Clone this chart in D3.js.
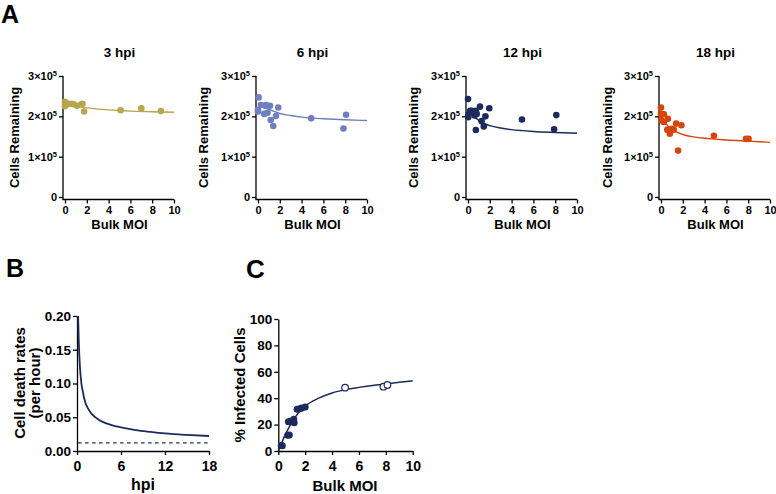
<!DOCTYPE html>
<html><head><meta charset="utf-8">
<script src="https://cdn.jsdelivr.net/npm/d3@7"></script>
<style>
body{margin:0;background:#fff}
svg{display:block}
text{font-family:"Liberation Sans",Arial,Helvetica,sans-serif;font-weight:bold;fill:#000}
</style>
</head><body>
<svg id="c" width="776" height="494"></svg>
<script>
// ---------- DATA ----------
const titlesA = ["3 hpi", "6 hpi", "12 hpi", "18 hpi"];
const colorsA = ["#b7a64f", "#6f7fc2", "#1c2b5b", "#d5460e"];
const moiTicks = [0, 2, 4, 6, 8, 10];
const cellTicks = [0, 1e5, 2e5, 3e5];

const moi3 = [0, 0, 0.05, 0.3, 0.6, 0.8, 1.1, 1.5, 1.6, 1.75, 5.1, 7.0, 8.8];
const cells3 = [2.36e5, 2.25e5, 2.31e5, 2.31e5, 2.31e5, 2.30e5, 2.26e5, 2.30e5, 2.31e5, 2.12e5, 2.15e5, 2.20e5, 2.13e5];

const moi6 = [0.06, 0, 0, 0.27, 0.66, 0.57, 0.75, 0.87, 1.1, 1.17, 1.4, 1.65, 1.86, 4.88, 7.84, 8.08];
const cells6 = [2.47e5, 2.16e5, 2.12e5, 2.28e5, 2.26e5, 2.06e5, 2.28e5, 2.09e5, 2.26e5, 1.91e5, 1.76e5, 2.01e5, 2.22e5, 1.95e5, 1.70e5, 2.04e5];

const moi12 = [0, 0.02, 0.05, 0.2, 0.35, 0.5, 0.6, 0.7, 0.72, 0.8, 1.1, 1.25, 1.45, 1.6, 1.95, 4.95, 7.9, 8.1];
const cells12 = [2.43e5, 1.98e5, 2.05e5, 2.14e5, 2.14e5, 2.10e5, 2.02e5, 2.14e5, 1.66e5, 2.06e5, 2.24e5, 1.88e5, 1.75e5, 2.00e5, 2.20e5, 1.92e5, 1.68e5, 2.03e5];

const moi18 = [0, 0, 0.27, 0.03, 0.27, 0.63, 0.58, 0.63, 0.81, 1.17, 1.0, 1.39, 1.87, 1.57, 4.85, 7.8, 8.03];
const cells18 = [2.22e5, 2.06e5, 2.05e5, 1.90e5, 1.86e5, 1.94e5, 1.67e5, 1.66e5, 1.57e5, 1.67e5, 1.69e5, 1.82e5, 1.78e5, 1.15e5, 1.52e5, 1.44e5, 1.44e5];

const fitMoi = [0, 0.25, 0.5, 1, 1.5, 2, 3, 4, 5, 6, 8, 10];
const fit3 = [2.30e5, 2.285e5, 2.27e5, 2.25e5, 2.23e5, 2.21e5, 2.18e5, 2.16e5, 2.145e5, 2.13e5, 2.115e5, 2.10e5];
const fit6 = [2.33e5, 2.28e5, 2.24e5, 2.17e5, 2.12e5, 2.07e5, 2.02e5, 1.98e5, 1.955e5, 1.94e5, 1.915e5, 1.895e5];
const fit12 = [2.15e5, 2.07e5, 2.00e5, 1.90e5, 1.82e5, 1.77e5, 1.71e5, 1.67e5, 1.645e5, 1.625e5, 1.60e5, 1.58e5];
const fit18 = [2.02e5, 1.90e5, 1.80e5, 1.68e5, 1.60e5, 1.55e5, 1.49e5, 1.455e5, 1.435e5, 1.415e5, 1.385e5, 1.355e5];

const hpiB = [0.15, 0.25, 0.4, 0.6, 0.8, 1, 1.5, 2, 3, 4, 6, 8, 10, 12, 15, 18];
const rateB = [0.200, 0.160, 0.125, 0.100, 0.088, 0.077, 0.063, 0.055, 0.046, 0.041, 0.035, 0.031, 0.0283, 0.026, 0.0238, 0.0222];
const dashHpi = [0.15, 18];
const dashRate = [0.012, 0.012];
const hpiTicks = [0, 6, 12, 18];
const rateTicks = [0, 0.05, 0.10, 0.15, 0.20];

const moiFilled = [0.22, 0.3, 0.7, 0.82, 0.75, 0.9, 1.15, 1.18, 1.4, 1.6, 1.75, 2.0];
const infFilled = [4.2, 4.0, 12, 12.2, 22.2, 22.5, 24, 21.4, 31.6, 32, 32.5, 33.3];
const moiOpen = [4.97, 7.82, 8.12];
const infOpen = [48, 48.7, 50];
const fitMoiC = [0, 0.25, 0.5, 0.75, 1, 1.5, 2, 3, 4, 5, 6, 7, 8, 9, 10];
const fitInfC = [0, 6, 12, 17, 21.5, 29, 34, 40, 44, 46.5, 48.2, 49.6, 50.8, 52, 53.2];
const infTicks = [0, 20, 40, 60, 80, 100];

// ---------- DRAW ----------
const svg = d3.select("#c");
const AX = 1.3;
function styleAxis(g, fs) {
  g.selectAll("line").attr("stroke", "#000").attr("stroke-width", AX);
  g.selectAll("path.domain").attr("stroke", "#000").attr("stroke-width", AX);
  g.selectAll("text").attr("fill", "#000").style("font-size", fs + "px")
    .attr("font-family", null);
}
function letter(t, x, y, fs) {
  svg.append("text").attr("x", x).attr("y", y).style("font-size", fs + "px").text(t);
}

// Panel A
letter("A", 1, 23, 25);
const seriesX = [moi3, moi6, moi12, moi18];
const seriesY = [cells3, cells6, cells12, cells18];
const fits = [fit3, fit6, fit12, fit18];
const axisXs = [63, 256, 466, 659];
const yLabX = [19, 208, 418, 612];
titlesA.forEach((title, i) => {
  const ax = axisXs[i];
  const x = d3.scaleLinear().domain([0, 10]).range([ax + 2, ax + 111]);
  const y = d3.scaleLinear().domain([0, 3e5]).range([197, 76]);
  const g = svg.append("g");
  // y axis
  const gy = g.append("g").attr("transform", `translate(${ax},0)`)
    .call(d3.axisLeft(y).tickValues(cellTicks).tickSize(4).tickSizeOuter(0).tickPadding(2).tickFormat(() => ""));
  gy.select("path.domain").remove();
  styleAxis(gy, 11);
  gy.selectAll(".tick text").each(function (d) {
    const t = d3.select(this);
    if (d === 0) { t.text("0"); return; }
    t.text((d / 1e5) + "×10");
    t.append("tspan").attr("dy", "-0.55em").style("font-size", "7.5px").text("5");
  });
  // x axis
  const gx = g.append("g").attr("transform", `translate(0,199.5)`)
    .call(d3.axisBottom(x).tickValues(moiTicks).tickSize(4).tickSizeOuter(0).tickPadding(3));
  gx.select("path.domain").remove();
  styleAxis(gx, 11);
  g.append("line").attr("x1", ax).attr("x2", ax).attr("y1", 76).attr("y2", 199.5)
    .attr("stroke", "#000").attr("stroke-width", AX);
  g.append("line").attr("x1", ax - 0.65).attr("x2", ax + 111).attr("y1", 199.5).attr("y2", 199.5)
    .attr("stroke", "#000").attr("stroke-width", AX);
  // fit line
  const line = d3.line().x(d => x(d[0])).y(d => y(d[1])).curve(d3.curveMonotoneX);
  g.append("path").datum(fitMoi.map((m, k) => [m, fits[i][k]]))
    .attr("d", line).attr("fill", "none").attr("stroke", colorsA[i]).attr("stroke-width", 1.4);
  // points
  g.selectAll("circle.p").data(seriesX[i].map((m, k) => [m, seriesY[i][k]])).enter()
    .append("circle").attr("cx", d => x(d[0])).attr("cy", d => y(d[1])).attr("r", 3.3)
    .attr("fill", colorsA[i]);
  // texts
  g.append("text").attr("x", ax + 56.5).attr("y", 57).attr("text-anchor", "middle")
    .style("font-size", "13.5px").text(title);
  g.append("text").attr("x", ax + 56.5).attr("y", 229).attr("text-anchor", "middle")
    .style("font-size", "13px").text("Bulk MOI");
  g.append("text").attr("transform", `translate(${yLabX[i]},137.5) rotate(-90)`)
    .attr("text-anchor", "middle").style("font-size", "13px").text("Cells Remaining");
});

// Panel B
letter("B", 6, 277, 25);
{
  const x = d3.scaleLinear().domain([0, 18]).range([77, 209]);
  const y = d3.scaleLinear().domain([0, 0.2]).range([451, 316]);
  const g = svg.append("g");
  const gy = g.append("g").attr("transform", "translate(77,0)")
    .call(d3.axisLeft(y).tickValues(rateTicks).tickSize(4).tickSizeOuter(0).tickPadding(2).tickFormat(d3.format(".2f")));
  styleAxis(gy, 13.5);
  const gx = g.append("g").attr("transform", "translate(0,451)")
    .call(d3.axisBottom(x).tickValues(hpiTicks).tickSize(4).tickSizeOuter(0).tickPadding(6));
  styleAxis(gx, 14);
  const line = d3.line().x(d => x(d[0])).y(d => y(d[1])).curve(d3.curveMonotoneX);
  g.append("path").datum(dashHpi.map((h, k) => [h, dashRate[k]]))
    .attr("d", line).attr("fill", "none").attr("stroke", "#1e2a5c").attr("stroke-width", 1.3)
    .attr("stroke-dasharray", "3.5,3.5");
  g.append("path").datum(hpiB.map((h, k) => [h, rateB[k]]))
    .attr("d", line).attr("fill", "none").attr("stroke", "#1e2a5c").attr("stroke-width", 1.8);
  g.append("text").attr("x", 143).attr("y", 490).attr("text-anchor", "middle")
    .style("font-size", "16px").text("hpi");
  g.append("text").attr("transform", "translate(24.5,383) rotate(-90)")
    .attr("text-anchor", "middle").style("font-size", "15px").text("Cell death rates");
  g.append("text").attr("transform", "translate(39.5,383) rotate(-90)")
    .attr("text-anchor", "middle").style("font-size", "15px").text("(per hour)");
}

// Panel C
letter("C", 246, 278, 26);
{
  const x = d3.scaleLinear().domain([0, 10]).range([278.3, 412.7]);
  const y = d3.scaleLinear().domain([0, 100]).range([451, 319]);
  const g = svg.append("g");
  const gy = g.append("g").attr("transform", "translate(278.3,0)")
    .call(d3.axisLeft(y).tickValues(infTicks).tickSize(4).tickSizeOuter(0).tickPadding(2));
  styleAxis(gy, 13.5);
  const gx = g.append("g").attr("transform", "translate(0,451)")
    .call(d3.axisBottom(x).tickValues(moiTicks).tickSize(4).tickSizeOuter(0).tickPadding(6));
  styleAxis(gx, 14);
  const line = d3.line().x(d => x(d[0])).y(d => y(d[1])).curve(d3.curveMonotoneX);
  g.append("path").datum(fitMoiC.map((m, k) => [m, fitInfC[k]]))
    .attr("d", line).attr("fill", "none").attr("stroke", "#1e2a5c").attr("stroke-width", 1.5);
  g.selectAll("circle.f").data(moiFilled.map((m, k) => [m, infFilled[k]])).enter()
    .append("circle").attr("cx", d => x(d[0])).attr("cy", d => y(d[1])).attr("r", 3.5)
    .attr("fill", "#1e2a5c");
  g.selectAll("circle.o").data(moiOpen.map((m, k) => [m, infOpen[k]])).enter()
    .append("circle").attr("cx", d => x(d[0])).attr("cy", d => y(d[1])).attr("r", 3.3)
    .attr("fill", "#fff").attr("stroke", "#1e2a5c").attr("stroke-width", 1.2);
  g.append("text").attr("x", 345).attr("y", 490.5).attr("text-anchor", "middle")
    .style("font-size", "15px").text("Bulk MOI");
  g.append("text").attr("transform", "translate(245,385) rotate(-90)")
    .attr("text-anchor", "middle").style("font-size", "15px").text("% Infected Cells");
}
</script>
</body></html>
